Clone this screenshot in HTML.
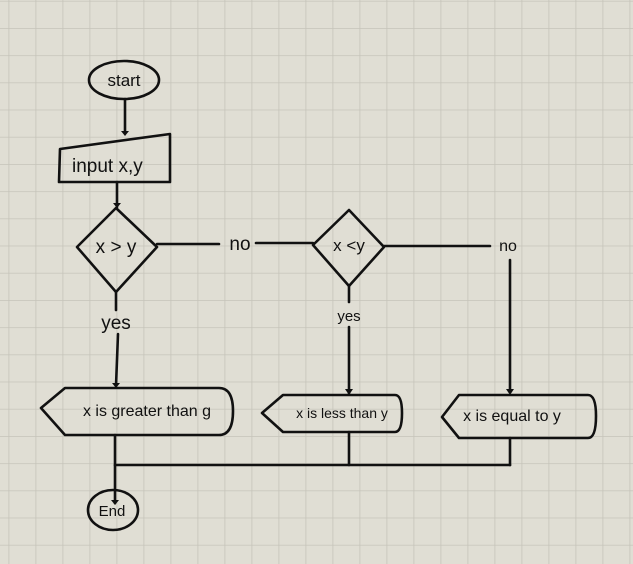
<!DOCTYPE html>
<html><head><meta charset="utf-8"><style>
html,body{margin:0;padding:0;background:#e0ded4;}
svg{display:block;}
text{font-family:"Liberation Sans",sans-serif;fill:#111;}
</style></head><body>
<svg width="633" height="564" viewBox="0 0 633 564" xmlns="http://www.w3.org/2000/svg">
<defs>
<pattern id="g" x="8.5" y="0.8" width="27" height="27.2" patternUnits="userSpaceOnUse">
<path d="M0 0V27.2M0 0H27" stroke="#c6c4ba" stroke-width="1.6" fill="none"/>
</pattern>
</defs>
<rect width="633" height="564" fill="#e0ded4"/>
<rect width="633" height="564" fill="url(#g)"/>
<g stroke="#111" stroke-width="2.6" fill="none" stroke-linejoin="round" stroke-linecap="round">
<ellipse cx="124" cy="80" rx="35" ry="19"/>
<line x1="125" y1="99" x2="125" y2="133"/>
<path d="M60 149 L170 134 L170 182 L59 182 Z"/>
<line x1="117" y1="182" x2="117" y2="207"/>
<path d="M116 208 L157 247 L116 292 L77 247 Z"/>
<line x1="157" y1="244" x2="219" y2="244"/>
<line x1="256" y1="243" x2="313" y2="243"/>
<path d="M349 210 L384 247 L349 286 L313 245 Z"/>
<line x1="384" y1="246" x2="490" y2="246"/>
<line x1="510" y1="260" x2="510" y2="392"/>
<line x1="116" y1="292" x2="116" y2="310"/>
<line x1="118" y1="334" x2="116" y2="386"/>
<line x1="349" y1="286" x2="349" y2="302"/>
<line x1="349" y1="327" x2="349" y2="393"/>
<path d="M41 408 L65 388 L219 388 Q233 388 233 411 Q233 435 219 435 L65 435 Z"/>
<path d="M262 413 L283 395 L395 395 Q402 395 402 413 Q402 432 395 432 L283 432 Z"/>
<path d="M442 417 L459 395 L588 395 Q596 395 596 416 Q596 438 588 438 L459 438 Z"/>
<line x1="115" y1="435" x2="115" y2="503"/>
<line x1="349" y1="432" x2="349" y2="465"/>
<line x1="510" y1="438" x2="510" y2="465"/>
<line x1="115" y1="465" x2="510" y2="465"/>
<ellipse cx="113" cy="510" rx="25" ry="20"/>
</g>
<g fill="#111">
<path d="M121 131 L129 131 L125 136 Z"/>
<path d="M113 203 L121 203 L117 208 Z"/>
<path d="M112 383 L120 383 L116 388 Z"/>
<path d="M345 389 L353 389 L349 395 Z"/>
<path d="M506 389 L514 389 L510 395 Z"/>
<path d="M111 500 L119 500 L115 505 Z"/>
</g>
<text x="124" y="86" font-size="17" text-anchor="middle">start</text>
<text x="72" y="172" font-size="19">input  x,y</text>
<text x="116" y="253" font-size="19" text-anchor="middle">x &gt; y</text>
<text x="240" y="250" font-size="19" text-anchor="middle">no</text>
<text x="349" y="251" font-size="17" text-anchor="middle">x &lt;y</text>
<text x="508" y="251" font-size="16" text-anchor="middle">no</text>
<text x="116" y="329" font-size="19" text-anchor="middle">yes</text>
<text x="349" y="321" font-size="15" text-anchor="middle">yes</text>
<text x="147" y="416" font-size="16" text-anchor="middle">x is greater than g</text>
<text x="342" y="418" font-size="14" text-anchor="middle">x is less than y</text>
<text x="512" y="421" font-size="16" text-anchor="middle">x is equal to y</text>
<text x="112" y="516" font-size="15" text-anchor="middle">End</text>
</svg>
</body></html>
